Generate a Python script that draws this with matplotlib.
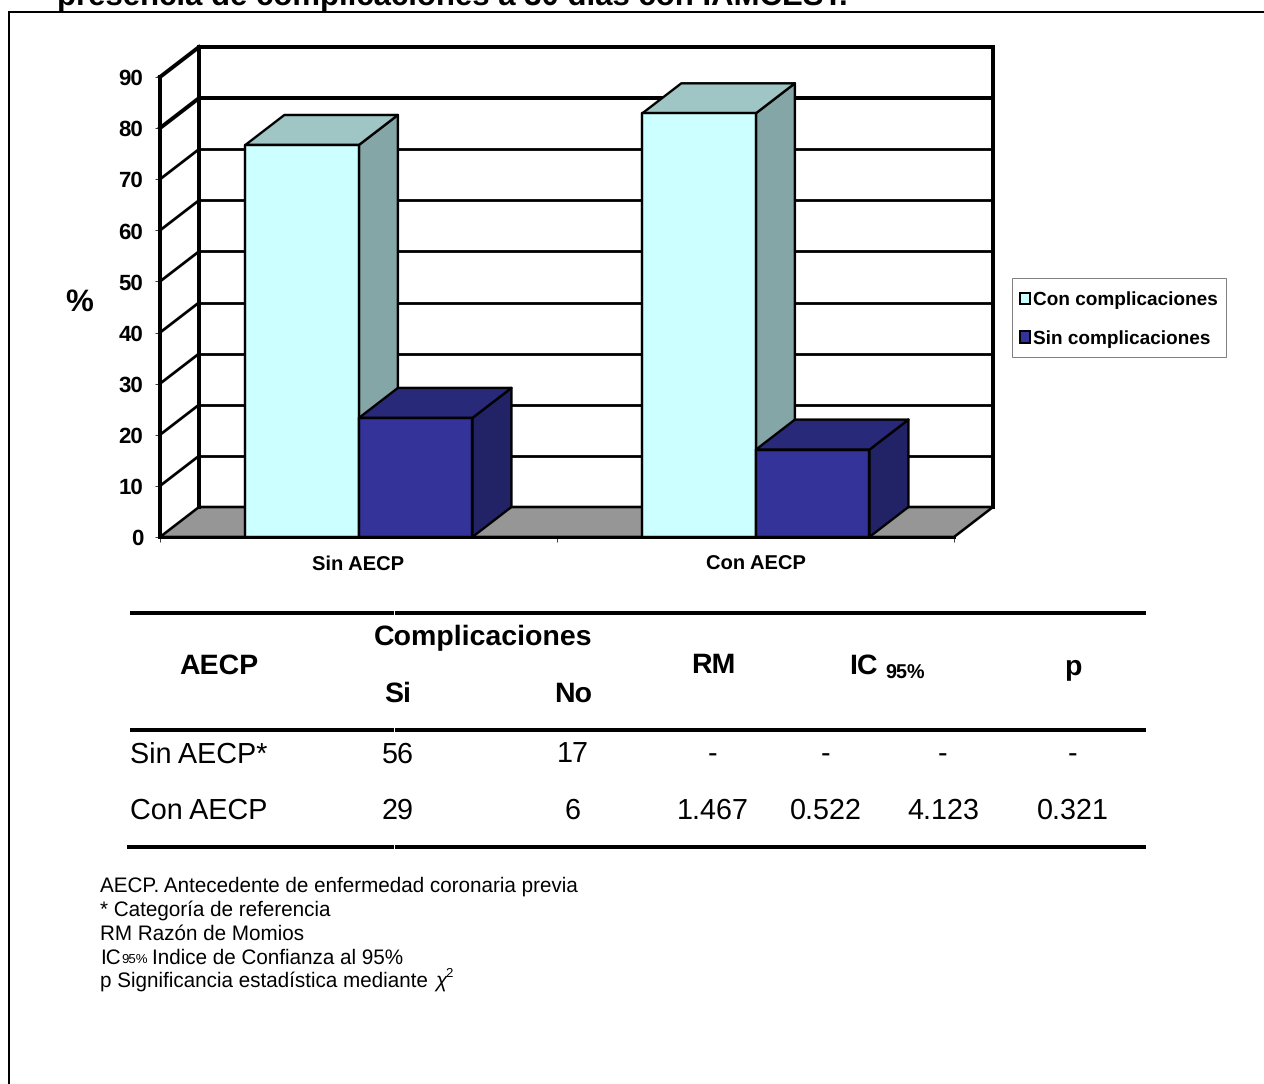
#!/usr/bin/env python

import matplotlib
matplotlib.use("Agg")
import matplotlib.pyplot as plt
from matplotlib.patches import Patch, Polygon, Rectangle

plt.rcParams['font.family'] = ['Liberation Sans', 'DejaVu Sans']
plt.rcParams['text.hinting'] = 'no_hinting'

categories = ["Sin AECP", "Con AECP"]
series_names = ["Con complicaciones", "Sin complicaciones"]
con_complicaciones = [76.7, 82.9]
sin_complicaciones = [23.3, 17.1]
y_ticks = [0, 10, 20, 30, 40, 50, 60, 70, 80, 90]

title = "presencia de complicaciones a 30 días con IAMCEST."
table_rows = ["Sin AECP*", "Con AECP"]
table_si = ["56", "29"]
table_no = ["17", "6"]
table_rm = ["-", "1.467"]
table_ic_low = ["-", "0.522"]
table_ic_high = ["-", "4.123"]
table_p = ["-", "0.321"]
notes = ["AECP. Antecedente de enfermedad coronaria previa",
         "* Categoría de referencia",
         "RM Razón de Momios"]

W, H = 1264, 1084
BAR_W = 0.286
GROUP_CENTER = 0.501
NOTE_SIZE = 14.9
# 3D look: how far the back wall sits from the front plane, in data units
DX = 39 / 397
DY = 30 / (460 / 90)

COLORS = {
    "light": ("#CCFFFF", "#9FC5C5", "#85A6A6"),
    "dark": ("#333399", "#29297A", "#222266"),
}


def px(n):
    return n * 72 / 100


def draw_bar(ax, x0, value, kind, z):
    front, top, side = COLORS[kind]
    x1 = x0 + BAR_W
    lw = px(2.4)
    ax.add_patch(Polygon([(x1, 0), (x1 + DX, DY), (x1 + DX, value + DY), (x1, value)],
                         fc=side, ec="black", lw=lw, zorder=z, clip_on=False, joinstyle="round"))
    ax.add_patch(Polygon([(x0, value), (x0 + DX, value + DY), (x1 + DX, value + DY), (x1, value)],
                         fc=top, ec="black", lw=lw, zorder=z, clip_on=False, joinstyle="round"))
    ax.add_patch(Polygon([(x0, 0), (x0, value), (x1, value), (x1, 0)],
                         fc=front, ec="black", lw=lw, zorder=z + 0.1, clip_on=False, joinstyle="round"))


def draw_walls(ax):
    # floor
    ax.add_patch(Polygon([(0, 0), (DX, DY), (2 + DX, DY), (2, 0)], fc="#969696", ec="black",
                         lw=px(2.6), zorder=1, clip_on=False))
    for v in y_ticks[1:]:
        lw = px(4) if v >= 80 else px(2.8)
        ax.plot([0, DX], [v, v + DY], color="black", lw=lw, zorder=2, clip_on=False)
        ax.plot([DX, 2 + DX], [v + DY, v + DY], color="black", lw=lw, zorder=2, clip_on=False)
    ax.plot([0, 0], [0, 90], color="black", lw=px(4), zorder=3, clip_on=False)
    ax.plot([DX, DX], [DY, 90 + DY], color="black", lw=px(4), zorder=3, clip_on=False)
    ax.plot([2 + DX, 2 + DX], [DY, 90 + DY], color="black", lw=px(4), zorder=3, clip_on=False)
    ax.plot([0, 2], [0, 0], color="black", lw=px(3), zorder=8, clip_on=False)


def draw_table(page):
    for y, x0 in [(613, 130), (730, 130), (847, 127)]:
        page.plot([x0, 394], [y, y], color="black", lw=px(4), solid_capstyle="butt")
        page.plot([395, 1146], [y, y], color="black", lw=px(4), solid_capstyle="butt")

    head = dict(fontsize=20.5, fontweight="bold", ha="center", va="center")
    page.text(219, 666, "AECP", **head)
    page.text(483, 638, "Complicaciones", **head)
    page.text(398, 694, "Si", **head)
    page.text(573, 694, "No", **head)
    page.text(713, 666, "RM", **head)
    page.text(849, 666, "IC", fontsize=20.5, fontweight="bold", ha="left", va="center")
    page.text(885, 679, "95%", fontsize=14.2, fontweight="bold", ha="left", va="baseline")
    page.text(1073, 667, "p", **head)

    for i, y in enumerate([755, 811]):
        page.text(130, y, table_rows[i], fontsize=20.7, ha="left", va="center")
        columns = [(398, table_si), (573, table_no), (713, table_rm),
                   (826, table_ic_low), (943, table_ic_high), (1073, table_p)]
        for x, col in columns:
            page.text(x, y, col[i], fontsize=20.7, ha="center", va="center")


def draw_notes(page):
    for y, line in zip([886, 910, 934], notes):
        page.text(100, y, line, fontsize=NOTE_SIZE, ha="left", va="center")
    page.text(100, 958, "IC", fontsize=NOTE_SIZE, ha="left", va="center")
    page.text(121, 963, "95%", fontsize=9.5, ha="left", va="baseline")
    page.text(152, 958, "Indice de Confianza al 95%", fontsize=NOTE_SIZE, ha="left", va="center")
    page.text(100, 981, "p Significancia estadística mediante", fontsize=NOTE_SIZE, ha="left", va="center")
    page.text(435, 987, "χ", fontsize=NOTE_SIZE, style="italic", ha="left", va="baseline")
    page.text(445, 977, "2", fontsize=9.5, ha="left", va="baseline")


def main():
    fig = plt.figure(figsize=(W / 100, H / 100), dpi=100, facecolor="white")

    # page layer: frame, heading, table and notes, laid out in pixels
    page = fig.add_axes([0, 0, 1, 1], zorder=0)
    page.set_xlim(0, W)
    page.set_ylim(H, 0)
    page.axis("off")
    page.text(57, 6, title, fontsize=22.4, fontweight="bold", ha="left", va="baseline")
    page.plot([9, 9, W], [H, 12, 12], color="black", lw=px(2), solid_joinstyle="miter")
    page.add_patch(Rectangle((1012, 278), 214, 79, fc="white", ec="#808080", lw=px(1)))
    draw_table(page)
    draw_notes(page)
    page.text(79, 303, "%", fontsize=22.5, fontweight="bold", ha="center", va="center")

    # chart layer: the front plane of the 3D box, 0-90 on y, two categories on x
    ax = fig.add_axes([160 / W, 1 - 537 / H, 794 / W, 460 / H], zorder=1)
    ax.patch.set_visible(False)
    ax.set_xlim(0, 2)
    ax.set_ylim(0, 90)
    for spine in ax.spines.values():
        spine.set_visible(False)

    draw_walls(ax)
    for i in range(len(categories)):
        draw_bar(ax, i + GROUP_CENTER - BAR_W, con_complicaciones[i], "light", 4)
        draw_bar(ax, i + GROUP_CENTER, sin_complicaciones[i], "dark", 5)

    ax.set_yticks(y_ticks)
    ax.set_yticklabels([str(v) for v in y_ticks], fontsize=16, fontweight="bold")
    ax.set_xticks([0, 1, 2])
    ax.set_xticklabels([])
    ax.tick_params(axis="both", length=px(5), width=px(1), color="#404040", pad=px(12))
    for i, name in enumerate(categories):
        ax.annotate(name, (i + 0.5, 0), xytext=(0, -px(27.5)), textcoords="offset points",
                    fontsize=14.5, fontweight="bold", ha="center", va="center")

    handles = [Patch(fc=COLORS["light"][0], ec="black", lw=px(2)),
               Patch(fc=COLORS["dark"][0], ec="black", lw=px(2))]
    fig.legend(handles, series_names, loc="upper left",
               bbox_to_anchor=(1012 / W, 1 - 284 / H), bbox_transform=fig.transFigure,
               frameon=False, prop=dict(size=13.7, weight="bold"),
               handlelength=0.56, handleheight=0.56, handletextpad=0.14,
               labelspacing=1.08, borderpad=0.4, borderaxespad=0)

    fig.savefig("out.png", dpi=100)


if __name__ == "__main__":
    main()
